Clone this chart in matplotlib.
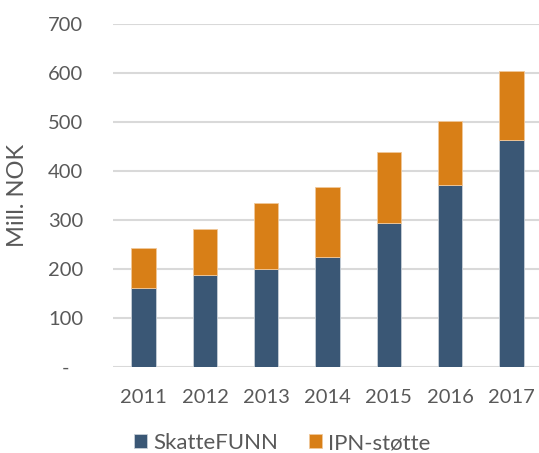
import matplotlib.pyplot as plt
import numpy as np

years = ["2011", "2012", "2013", "2014", "2015", "2016", "2017"]
skattefunn = [161, 188, 199, 224, 293, 371, 463]
totals = [242, 282, 334, 368, 438, 502, 605]
ipn = [t - s for t, s in zip(totals, skattefunn)]

y_ticks = [0, 100, 200, 300, 400, 500, 600, 700]
y_labels = ["-", "100", "200", "300", "400", "500", "600", "700"]

BLUE = "#3a5775"
ORANGE = "#d87f17"
TXT = "#595959"

plt.rcParams['font.family'] = ['Lato', 'DejaVu Sans']

fig = plt.figure(figsize=(5.39, 4.53), dpi=100)
ax = fig.add_axes([113/539, 1-367/453, (539-113)/539, (367-24)/453])

x = np.arange(len(years))
ax.bar(x, skattefunn, width=0.4, color=BLUE, edgecolor="#c8d0d8", linewidth=0.6,
       label="SkatteFUNN", zorder=3)
ax.bar(x, ipn, bottom=skattefunn, width=0.4, color=ORANGE, edgecolor="#f0c89a",
       linewidth=0.6, label="IPN-støtte", zorder=3)

ax.set_xlim(-0.5, 6.45)
ax.set_ylim(0, 700)
ax.set_yticks(y_ticks)
ax.set_yticklabels(y_labels)
ax.set_xticks(x)
ax.set_xticklabels(years)
ax.yaxis.grid(True, color="#d9d9d9", linewidth=1.5, zorder=0)
ax.tick_params(axis="both", length=0, labelsize=14.5, colors=TXT)
ax.tick_params(axis="y", pad=34)
ax.tick_params(axis="x", pad=16)
for lab in ax.get_yticklabels():
    lab.set_horizontalalignment("center")
for s in ax.spines.values():
    s.set_visible(False)
ax.set_ylabel("Mill. NOK", fontsize=17, color=TXT)
ax.yaxis.set_label_coords(-0.2, 0.5)

ax.legend(loc="center", bbox_to_anchor=(282/539, 1-443/453), bbox_transform=fig.transFigure,
          ncol=2, frameon=False, fontsize=16, labelcolor=TXT, handlelength=0.6,
          handleheight=0.6, handletextpad=0.25, columnspacing=1.4)

fig.savefig("out.png", dpi=100)
